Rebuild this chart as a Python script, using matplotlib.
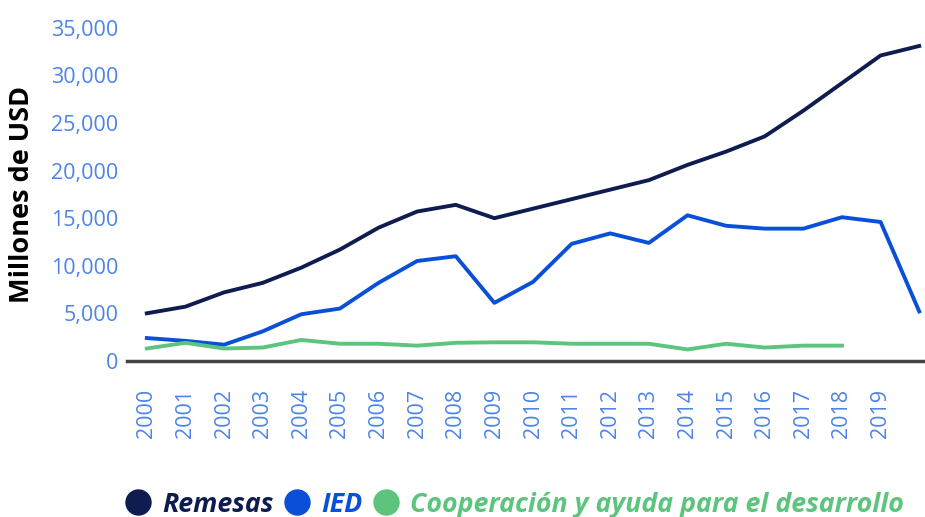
import matplotlib.pyplot as plt
from matplotlib.lines import Line2D
from matplotlib.ticker import FuncFormatter

years = list(range(2000, 2021))
year_labels = [str(y) for y in range(2000, 2020)] + [""]

remesas = [5000, 5700, 7200, 8200, 9800, 11700, 14000, 15700, 16400, 15000,
           16000, 17000, 18000, 19000, 20600, 22000, 23600, 26300, 29200, 32100, 33100]
ied = [2400, 2100, 1700, 3100, 4900, 5500, 8200, 10500, 11000, 6100,
       8300, 12300, 13400, 12400, 15300, 14200, 13900, 13900, 15100, 14600, 5200]
coop_years = list(range(2000, 2019))
cooperacion = [1300, 1900, 1300, 1400, 2200, 1800, 1800, 1600, 1900, 1950,
               1950, 1800, 1800, 1800, 1200, 1800, 1400, 1600, 1600]

c_rem = "#0e1c4f"
c_ied = "#0a4fd8"
c_coop = "#5cc47c"
c_tick = "#4d84e6"

plt.rcParams["font.family"] = ["Open Sans", "DejaVu Sans"]

fig = plt.figure(figsize=(9.25, 5.17), dpi=100)
ax = fig.add_axes([0.137, 0.302, 0.863, 0.644])

ax.plot(years, remesas, color=c_rem, lw=2.8)
ax.plot(years, ied, color=c_ied, lw=2.8)
ax.plot(coop_years, cooperacion, color=c_coop, lw=2.8)

ax.set_xlim(1999.48, 2020.15)
ax.set_ylim(0, 35000)
ax.set_yticks(range(0, 35001, 5000))
ax.yaxis.set_major_formatter(FuncFormatter(lambda v, p: f"{int(v):,}"))
ax.set_xticks(years)
ax.set_xticklabels(year_labels, rotation=90)

for s in ["top", "right", "left"]:
    ax.spines[s].set_visible(False)
ax.spines["bottom"].set_color("#444444")
ax.spines["bottom"].set_linewidth(2.5)
ax.tick_params(axis="both", length=0, colors=c_tick)
ax.tick_params(axis="y", labelsize=15.5, pad=6)
ax.tick_params(axis="x", labelsize=15.5, pad=20)

ax.set_ylabel("Millones de USD", fontsize=19.5, fontweight="bold", color="black")
ax.yaxis.set_label_coords(-0.115, 0.5)

handles = [Line2D([], [], marker="o", ls="", ms=18, color=c) for c in (c_rem, c_ied, c_coop)]
leg = fig.legend(handles, ["Remesas", "IED", "Cooperación y ayuda para el desarrollo"],
                 loc="lower left", bbox_to_anchor=(0.109, -0.048), ncol=3, frameon=False,
                 handletextpad=0.38, columnspacing=0.4, handlelength=1.0,
                 prop={"weight": "bold", "style": "italic", "size": 19.3})
for t, c in zip(leg.get_texts(), (c_rem, c_ied, c_coop)):
    t.set_color(c)

fig.savefig("out.png", dpi=100)
